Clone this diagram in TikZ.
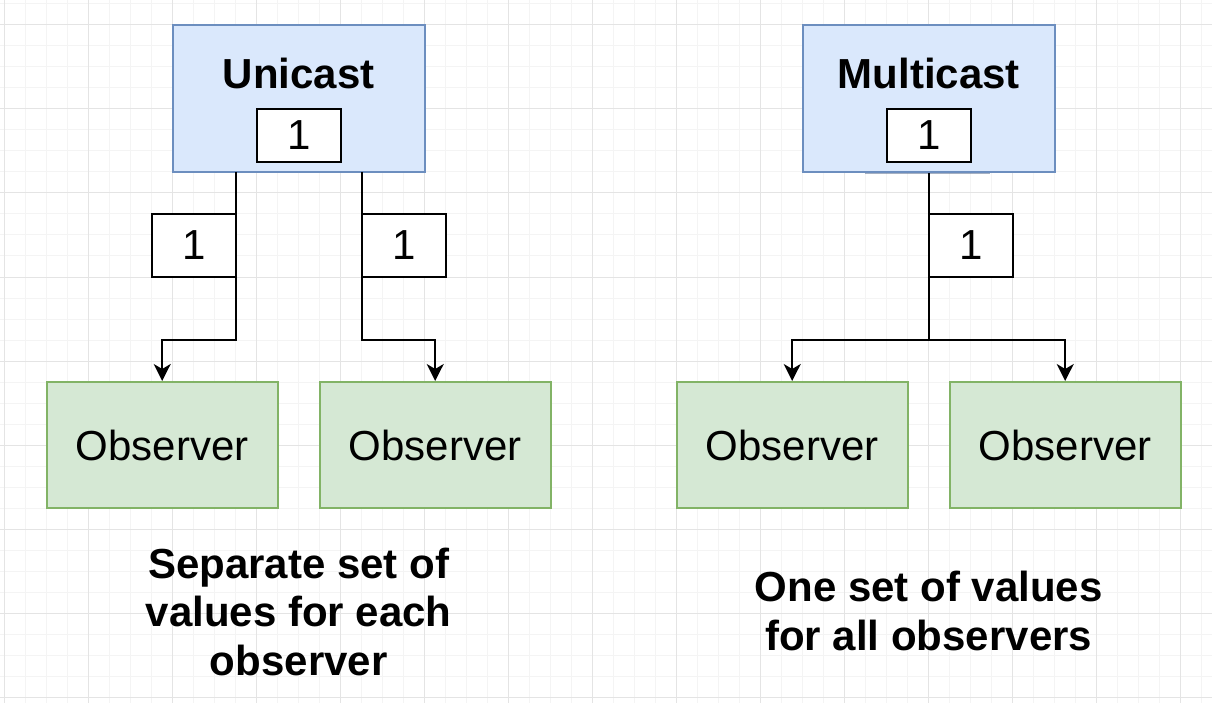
\documentclass[tikz,border=0pt]{standalone}
\usepackage{fontspec}
\setmainfont{Liberation Sans}
\usetikzlibrary{arrows.meta}
\definecolor{blueFill}{HTML}{DAE8FC}
\definecolor{blueLine}{HTML}{6C8EBF}
\definecolor{greenFill}{HTML}{D5E8D4}
\definecolor{greenLine}{HTML}{82B366}
\definecolor{gridMinor}{HTML}{F4F4F4}
\definecolor{gridMajor}{HTML}{E4E4E4}
\begin{document}
\begin{tikzpicture}[x=1pt,y=-1pt,
  gridminor/.style={draw=gridMinor,line width=1pt},
  gridmajor/.style={draw=gridMajor,line width=1pt},
  sourcebox/.style={rectangle,draw=blueLine,fill=blueFill,line width=2pt,
    minimum width=252pt,minimum height=147pt,inner sep=0pt},
  valbox/.style={rectangle,draw=black,fill=white,line width=2pt,inner sep=0pt,
    font=\fontsize{42}{50}\selectfont},
  innerbox/.style={valbox,minimum width=84pt,minimum height=52.5pt},
  labelbox/.style={valbox,minimum width=84pt,minimum height=63pt},
  obsbox/.style={rectangle,draw=greenLine,fill=greenFill,line width=2pt,
    minimum width=231pt,minimum height=126pt,inner sep=0pt,
    font=\fontsize{42}{50}\selectfont},
  titletext/.style={anchor=base,inner sep=0pt,font=\fontsize{42}{50}\selectfont\bfseries},
  edge/.style={draw=black,line width=2pt,
    -{Stealth[length=17pt,width=17pt,inset=5pt]}},
  plainedge/.style={draw=black,line width=2pt}
]
\useasboundingbox (0,0) rectangle (1212,703);
\fill[white] (0,0) rectangle (1212,703);
% grid
\foreach \i in {0,...,57} {\draw[gridminor] ({4.7+21*\i},0) -- ({4.7+21*\i},703);}
\foreach \j in {0,...,33} {\draw[gridminor] (0,{4+21*\j}) -- (1212,{4+21*\j});}
\foreach \i in {0,...,14} {\draw[gridmajor] ({4.7+84*\i},0) -- ({4.7+84*\i},703);}
\foreach \j in {0,...,8} {\draw[gridmajor] (0,{25+84*\j}) -- (1212,{25+84*\j});}

% source boxes
\node[sourcebox] (uni) at (298.7,98.5) {};
\node[titletext] (unit) at (298.7,88.3) {Unicast};
\node[innerbox] (u1) at (298.7,135.5) {1};

\node[sourcebox] (multi) at (928.7,98.5) {};
\node[titletext] (multit) at (928.7,88.3) {Multicast};
\node[innerbox] (m1) at (928.7,135.5) {1};
\draw[draw=blueLine!70!black,line width=1pt,opacity=0.5] (865,173.3) -- (990,173.3);

% observers
\node[obsbox] (o1) at (162.2,445) {Observer};
\node[obsbox] (o2) at (435.2,445) {Observer};
\node[obsbox] (o3) at (792.2,445) {Observer};
\node[obsbox] (o4) at (1065.2,445) {Observer};

% junction points
\coordinate (j1) at (235.7,340);
\coordinate (j2) at (361.7,340);
\coordinate (j3) at (928.7,340);
\coordinate (s1) at (235.7,172);
\coordinate (s2) at (361.7,172);

% connectors
\draw[edge] (s1) -- (j1) -| (o1.north);
\draw[edge] (s2) -- (j2) -| (o2.north);
\draw[plainedge] (multi.south) -- (j3);
\draw[edge] (j3) -| (o3.north);
\draw[edge] (j3) -| (o4.north);

% value labels on connectors
\node[labelbox] (l1) at (193.7,245.5) {1};
\node[labelbox] (l2) at (403.7,245.5) {1};
\node[labelbox] (l3) at (970.7,245.5) {1};

% captions
\node[titletext] (capa1) at (298.7,578) {Separate set of};
\node[titletext] (capa2) at (298.7,626.5) {values for each};
\node[titletext] (capa3) at (298.7,675) {observer};
\node[titletext] (capb1) at (928.7,601.7) {One set of values};
\node[titletext] (capb2) at (928.7,650) {for all observers};
\end{tikzpicture}
\end{document}
